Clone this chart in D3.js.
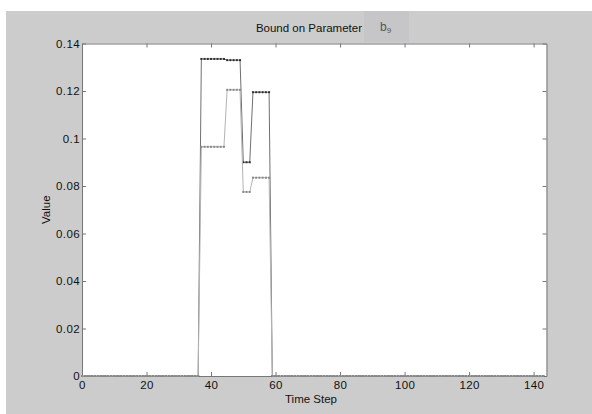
<!DOCTYPE html>
<html>
<head>
<meta charset="utf-8">
<script src="https://cdn.jsdelivr.net/npm/d3@7"></script>
<style>
  body { margin: 0; background: #fff; }
  text { font-family: "Liberation Sans", Arial, sans-serif; }
</style>
</head>
<body>
<div class="chart"></div>
<script>
// declare chart constants
const WIDTH = 592;
const HEIGHT = 414;

// upper bound series (dark), one value per time step
const upperBound = [
  0, 0, 0, 0, 0, 0, 0, 0, 0, 0, 0, 0, 0, 0, 0, 0, 0, 0, 0, 0,
  0, 0, 0, 0, 0, 0, 0, 0, 0, 0, 0, 0, 0, 0, 0, 0, 0,
  0.1335, 0.1335, 0.1335, 0.1335, 0.1335, 0.1335, 0.1335, 0.1335,
  0.133, 0.133, 0.133, 0.133, 0.133,
  0.09, 0.09, 0.09,
  0.1195, 0.1195, 0.1195, 0.1195, 0.1195, 0.1195,
  0, 0, 0, 0, 0, 0, 0, 0, 0, 0, 0, 0, 0, 0, 0, 0, 0, 0, 0, 0,
  0, 0, 0, 0, 0, 0, 0, 0, 0, 0, 0, 0, 0, 0, 0, 0, 0, 0, 0, 0,
  0, 0, 0, 0, 0, 0, 0, 0, 0, 0, 0, 0, 0, 0, 0, 0, 0, 0, 0, 0,
  0, 0, 0, 0, 0, 0, 0, 0, 0, 0, 0, 0, 0, 0, 0, 0, 0, 0, 0, 0,
  0, 0, 0, 0, 0
];

// lower bound series (light), one value per time step
const lowerBound = [
  0, 0, 0, 0, 0, 0, 0, 0, 0, 0, 0, 0, 0, 0, 0, 0, 0, 0, 0, 0,
  0, 0, 0, 0, 0, 0, 0, 0, 0, 0, 0, 0, 0, 0, 0, 0, 0,
  0.0965, 0.0965, 0.0965, 0.0965, 0.0965, 0.0965, 0.0965, 0.0965,
  0.1205, 0.1205, 0.1205, 0.1205, 0.1205,
  0.0775, 0.0775, 0.0775,
  0.0835, 0.0835, 0.0835, 0.0835, 0.0835, 0.0835,
  0, 0, 0, 0, 0, 0, 0, 0, 0, 0, 0, 0, 0, 0, 0, 0, 0, 0, 0, 0,
  0, 0, 0, 0, 0, 0, 0, 0, 0, 0, 0, 0, 0, 0, 0, 0, 0, 0, 0, 0,
  0, 0, 0, 0, 0, 0, 0, 0, 0, 0, 0, 0, 0, 0, 0, 0, 0, 0, 0, 0,
  0, 0, 0, 0, 0, 0, 0, 0, 0, 0, 0, 0, 0, 0, 0, 0, 0, 0, 0, 0,
  0, 0, 0, 0, 0
];

// tick values
const xTicks = [0, 20, 40, 60, 80, 100, 120, 140];
const yTicks = [0, 0.02, 0.04, 0.06, 0.08, 0.1, 0.12, 0.14];

// plot box
const LEFT = 82, RIGHT = 546.5, TOP = 43.5, BOTTOM = 376;

const svg = d3
  .select(".chart")
  .append("svg")
  .attr("width", WIDTH)
  .attr("height", HEIGHT);

// figure background
svg.append("rect")
  .attr("x", 6).attr("y", 11)
  .attr("width", WIDTH - 6).attr("height", HEIGHT - 11)
  .attr("fill", "#cccccc");

// little text box behind the symbol
svg.append("rect")
  .attr("x", 364).attr("y", 11)
  .attr("width", 45).attr("height", 31)
  .attr("fill", "#c6c6c8");

// scales
const x = d3.scaleLinear().domain([0, 144]).range([LEFT, RIGHT]);
const y = d3.scaleLinear().domain([0, 0.14]).range([BOTTOM, TOP]);

// plot area
svg.append("rect")
  .attr("x", LEFT).attr("y", TOP)
  .attr("width", RIGHT - LEFT).attr("height", BOTTOM - TOP)
  .attr("fill", "#fff");

// axes, ticks pointing inward like matlab
const fmt = (d) => String(+d.toFixed(2));
const axes = [
  { axis: d3.axisBottom(x).tickValues(xTicks).tickSizeInner(-4).tickSizeOuter(0).tickFormat(fmt), pos: [0, BOTTOM] },
  { axis: d3.axisTop(x).tickValues(xTicks).tickSizeInner(-4).tickSizeOuter(0).tickFormat(""), pos: [0, TOP] },
  { axis: d3.axisLeft(y).tickValues(yTicks).tickSizeInner(-4).tickSizeOuter(0).tickFormat(fmt), pos: [LEFT, 0] },
  { axis: d3.axisRight(y).tickValues(yTicks).tickSizeInner(-4).tickSizeOuter(0).tickFormat(""), pos: [RIGHT, 0] }
];

const axisGroups = axes.map((a) => {
  const g = svg.append("g")
    .attr("transform", `translate(${a.pos[0]},${a.pos[1]})`)
    .call(a.axis);
  g.select(".domain").attr("stroke", "#777");
  g.selectAll(".tick line").attr("stroke", "#777");
  g.selectAll(".tick text")
    .attr("fill", "#111")
    .style("font-size", "11.5px")
    .style("letter-spacing", "0.4px");
  return g;
});

// nudge tick labels to match the reference spacing
axisGroups[0].selectAll(".tick text").attr("y", 5).attr("dy", "0.71em");
axisGroups[2].selectAll(".tick text").attr("x", -2);

// series lines and markers, light one drawn last so the zero run looks light
const series = [
  { values: upperBound, line: "#707070", mark: "#2e2e2e" },
  { values: lowerBound, line: "#b4b4b4", mark: "#8a8a8a" }
];

const lineGen = d3.line()
  .x((d, i) => x(i))
  .y((d) => y(d));

series.forEach((s) => {
  svg.append("path")
    .datum(s.values)
    .attr("fill", "none")
    .attr("stroke", s.line)
    .attr("stroke-width", 1)
    .attr("d", lineGen);

  svg.append("g")
    .selectAll("rect")
    .data(s.values)
    .enter()
    .append("rect")
    .attr("x", (d, i) => x(i) - 1)
    .attr("y", (d) => y(d) - 1)
    .attr("width", 2)
    .attr("height", 2)
    .attr("fill", s.mark);
});

// title
svg.append("text")
  .attr("x", 362).attr("y", 32)
  .attr("text-anchor", "end")
  .attr("fill", "#111")
  .style("font-size", "11.5px")
  .text("Bound on Parameter");

// symbol with subscript
const sym = svg.append("text")
  .attr("x", 380).attr("y", 31)
  .attr("fill", "#555")
  .style("font-size", "12px");
sym.append("tspan").text("b");
sym.append("tspan").attr("dy", 2).style("font-size", "8px").text("9");

// axis labels
svg.append("text")
  .attr("x", 311).attr("y", 403)
  .attr("text-anchor", "middle")
  .attr("fill", "#111")
  .style("font-size", "11.5px")
  .text("Time Step");

svg.append("text")
  .attr("transform", `translate(50,${(TOP + BOTTOM) / 2}) rotate(-90)`)
  .attr("text-anchor", "middle")
  .attr("fill", "#111")
  .style("font-size", "11.5px")
  .text("Value");
</script>
</body>
</html>
